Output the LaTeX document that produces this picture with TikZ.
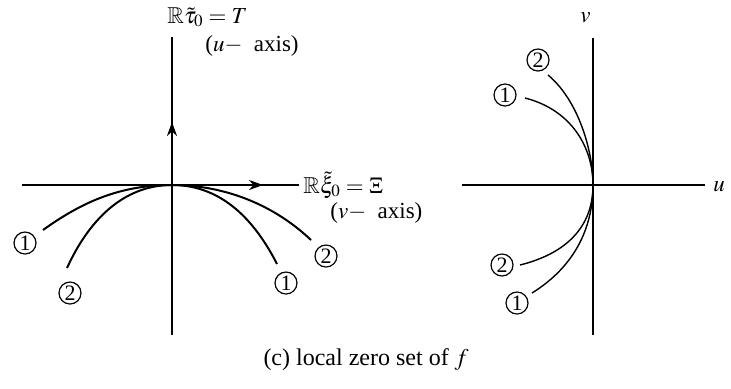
\documentclass[tikz,border=0pt]{standalone}
\usepackage{amssymb}
\usepackage{mathptmx}
\usepackage[no-math]{fontspec}
\setmainfont{Liberation Serif}
\usepackage{tikz}
\usetikzlibrary{arrows.meta}
\tikzset{
  axisline/.style={line width=1.1pt, draw=black},
  thinaxis/.style={line width=0.9pt, draw=black},
  curve/.style={line width=1pt, draw=black},
  thincurve/.style={line width=0.7pt, draw=black},
  midarrow/.style={-{Stealth[length=7pt,width=5pt]}},
  lbl/.style={inner sep=0pt, anchor=west, font=\fontsize{11.5}{13}\selectfont},
  num/.style={circle, draw, line width=0.6pt, inner sep=0pt, minimum size=11pt, font=\fontsize{11}{12}\selectfont},
}
\begin{document}
\begin{tikzpicture}[x=0.5pt, y=-0.5pt]
  \useasboundingbox (0,0) rectangle (731,388);
  % left picture: axes
  \coordinate (O) at (172,185);
  \coordinate (hl) at (22,185);
  \coordinate (ha) at (263,185);
  \coordinate (hr) at (299,185);
  \coordinate (vb) at (172,335);
  \coordinate (va) at (172,122);
  \coordinate (vt) at (172,37);
  \draw[axisline] (hl) -- (hr);
  \draw[axisline, midarrow] (O) -- (ha);
  \draw[axisline] (vb) -- (vt);
  \draw[axisline, midarrow] (O) -- (va);
  \node[lbl] (tau) at (167,17) {$\mathbb{R}\tilde{\tau}_0 = T$};
  \node[lbl] (uax) at (205,46) {($u-$\ \ axis)};
  \node[lbl] (xi) at (303,185) {$\mathbb{R}\tilde{\xi}_0 = \Xi$};
  \node[lbl] (vax) at (330,213) {($v-$\ \ axis)};
  % left picture: zero set branches
  \coordinate (a1) at (43,230);
  \coordinate (a2) at (67,268);
  \coordinate (b1) at (277,264);
  \coordinate (b2) at (311,240);
  \draw[curve] (a1) .. controls (82,202) and (120,185) .. (O);
  \draw[curve] (a2) .. controls (88,222) and (122,185) .. (O);
  \draw[curve] (b1) .. controls (252,215) and (218,185) .. (O);
  \draw[curve] (b2) .. controls (272,203) and (222,185) .. (O);
  \node[num] (na1) at (25,243) {1};
  \node[num] (na2) at (70,293) {2};
  \node[num] (nb1) at (286,283) {1};
  \node[num] (nb2) at (326,256) {2};
  % right picture: axes
  \coordinate (P) at (593,185);
  \coordinate (ul) at (462,185);
  \coordinate (ur) at (705,185);
  \coordinate (vl) at (593,335);
  \coordinate (vu) at (593,38);
  \draw[thinaxis] (ul) -- (ur);
  \draw[thinaxis] (vl) -- (vu);
  \node[lbl] (ulab) at (713,187) {$u$};
  \node[lbl] (vlab) at (580,18) {$v$};
  % right picture: zero set branches
  \coordinate (c2) at (548,75);
  \coordinate (c1) at (525,98);
  \coordinate (d2) at (520,265);
  \coordinate (d1) at (532,293);
  \draw[thincurve] (c2) .. controls (578,100) and (593,150) .. (P);
  \draw[thincurve] (c1) .. controls (572,110) and (593,148) .. (P);
  \draw[thincurve] (d2) .. controls (572,252) and (593,222) .. (P);
  \draw[thincurve] (d1) .. controls (577,265) and (593,225) .. (P);
  \node[num] (nc2) at (538,60) {2};
  \node[num] (nc1) at (505,95) {1};
  \node[num] (nd2) at (502,265) {2};
  \node[num] (nd1) at (517,303) {1};
  % caption
  \node[font=\fontsize{12}{14}\selectfont] (cap) at (366,360) {(c) local zero set of $f$};
\end{tikzpicture}
\end{document}
